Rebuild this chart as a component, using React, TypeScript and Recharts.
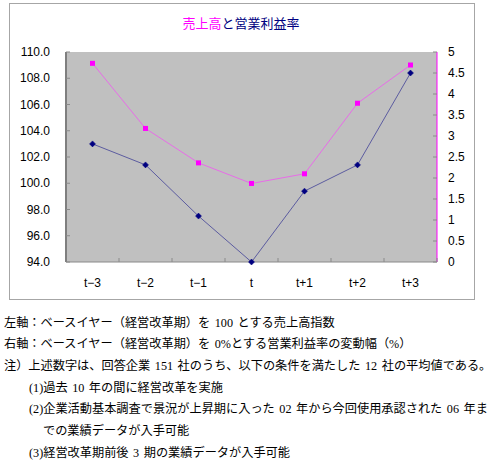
import React from 'react';
import { ComposedChart, Line, XAxis, YAxis, CartesianGrid } from 'recharts';

// 期間（経営改革期 t を中心に前後3期）
const periods = ['t−3', 't−2', 't−1', 't', 't+1', 't+2', 't+3'];
// 左軸：売上高指数
const salesIndex = [103.0, 101.4, 97.5, 94.0, 99.4, 101.4, 108.4];
// 右軸：営業利益率の変動幅（%）
const marginChange = [4.73, 3.18, 2.36, 1.87, 2.1, 3.78, 4.69];

const leftTicks = [94, 96, 98, 100, 102, 104, 106, 108, 110];
const rightTicks = [0, 0.5, 1, 1.5, 2, 2.5, 3, 3.5, 4, 4.5, 5];

const notes = [
  { text: '左軸：ベースイヤー（経営改革期）を 100 とする売上高指数', x: 4, y: 323 },
  { text: '右軸：ベースイヤー（経営改革期）を 0%とする営業利益率の変動幅（%）', x: 4, y: 344 },
  { text: '注）上述数字は、回答企業 151 社のうち、以下の条件を満たした 12 社の平均値である。', x: 4, y: 366 },
  { text: '(1)過去 10 年の間に経営改革を実施', x: 29, y: 388 },
  { text: '(2)企業活動基本調査で景況が上昇期に入った 02 年から今回使用承認された 06 年ま', x: 29, y: 409 },
  { text: 'での業績データが入手可能', x: 43, y: 431 },
  { text: '(3)経営改革期前後 3 期の業績データが入手可能', x: 29, y: 453 },
];

const data = periods.map((p, i) => ({
  period: p,
  sales: salesIndex[i],
  margin: marginChange[i],
}));

const CHART_W = 500;
const MARGIN = { top: 52, right: 23, left: 0, bottom: 8 };
const LEFT_W = 66;
const RIGHT_W = 40;

const axisFont = { fontFamily: '"Liberation Sans", "Noto Sans CJK JP", sans-serif', fontSize: 12 };
const TICK_GREY = '#8a8a8a';

const LeftTick = (props: any) => {
  const { x, y, payload } = props;
  const edge = x + 16;
  return (
    <g>
      <line x1={edge} x2={edge + 4} y1={y} y2={y} stroke={TICK_GREY} />
      <text x={x} y={y} textAnchor="end" dominantBaseline="central" fill="#000" style={axisFont}>
        {Number(payload.value).toFixed(1)}
      </text>
    </g>
  );
};

const RightTick = (props: any) => {
  const { x, y, payload } = props;
  const edge = x - 11;
  return (
    <g>
      <line x1={edge - 4} x2={edge} y1={y} y2={y} stroke={TICK_GREY} />
      <text x={x} y={y} textAnchor="start" dominantBaseline="central" fill="#000" style={axisFont}>
        {String(payload.value)}
      </text>
    </g>
  );
};

const BottomTick = (props: any) => {
  const { x, y, payload, index } = props;
  const count = props.visibleTicksCount || periods.length;
  const plotW =
    Number.isFinite(props.width) && props.width > 0
      ? props.width
      : CHART_W - MARGIN.left - MARGIN.right - LEFT_W - RIGHT_W;
  const band = plotW / count;
  const base = y - 21;
  const left = x - band / 2;
  const right = x + band / 2;
  return (
    <g>
      {index > 0 && <line x1={left} x2={left} y1={base} y2={base - 4} stroke={TICK_GREY} />}
      {index === count - 1 && <line x1={right} x2={right} y1={base} y2={base - 4} stroke={TICK_GREY} />}
      <text x={x} y={y} textAnchor="middle" dominantBaseline="central" fill="#000" style={axisFont}>
        {payload.value}
      </text>
    </g>
  );
};

const DiamondDot = (props: any) => {
  const { cx, cy, index } = props;
  if (cx == null || cy == null) return <g key={`d${index}`} />;
  const r = 3;
  return (
    <path
      key={`d${index}`}
      d={`M${cx},${cy - r}L${cx + r},${cy}L${cx},${cy + r}L${cx - r},${cy}Z`}
      fill="#000080"
      stroke="#000080"
      strokeWidth={0.5}
    />
  );
};

const SquareDot = (props: any) => {
  const { cx, cy, index } = props;
  if (cx == null || cy == null) return <g key={`s${index}`} />;
  const r = 2.5;
  return <rect key={`s${index}`} x={cx - r} y={cy - r} width={r * 2} height={r * 2} fill="#ff00ff" />;
};

export default function App() {
  return (
    <div style={{ position: 'absolute', left: 0, top: 0, width: 500, height: 462, background: '#fff' }}>
      <div
        style={{
          position: 'absolute',
          left: 9,
          top: 3,
          width: 466,
          height: 297,
          boxSizing: 'border-box',
          border: '1px solid #a6a6a6',
        }}
      />
      <div
        style={{
          position: 'absolute',
          left: 141,
          top: 14,
          width: 200,
          textAlign: 'center',
          fontFamily: '"Noto Sans CJK JP", sans-serif',
          fontSize: 13,
          lineHeight: '18px',
          color: '#000080',
        }}
      >
        <span style={{ color: '#ff00ff' }}>売上高</span>と営業利益率
      </div>
      <div style={{ position: 'absolute', left: 0, top: 0 }}>
        <ComposedChart width={CHART_W} height={300} data={data} margin={MARGIN}>
          <CartesianGrid fill="#c0c0c0" horizontal={false} vertical={false} />
          <XAxis
            dataKey="period"
            scale="band"
            height={30}
            tickSize={0}
            tickMargin={21}
            axisLine={{ stroke: TICK_GREY, strokeWidth: 1 }}
            tickLine={false}
            tick={<BottomTick />}
            interval={0}
          />
          <YAxis
            yAxisId="left"
            orientation="left"
            width={LEFT_W}
            domain={[94, 110]}
            ticks={leftTicks}
            tickSize={0}
            tickMargin={16}
            axisLine={{ stroke: '#7f7f7f', strokeWidth: 2 }}
            tickLine={false}
            tick={<LeftTick />}
            interval={0}
          />
          <YAxis
            yAxisId="right"
            orientation="right"
            width={RIGHT_W}
            domain={[0, 5]}
            ticks={rightTicks}
            tickSize={0}
            tickMargin={11}
            axisLine={{ stroke: '#ff00ff', strokeWidth: 1 }}
            tickLine={false}
            tick={<RightTick />}
            interval={0}
          />
          <Line
            yAxisId="right"
            type="linear"
            dataKey="margin"
            stroke="#e86ce8"
            strokeWidth={1}
            dot={SquareDot}
            activeDot={false}
            isAnimationActive={false}
          />
          <Line
            yAxisId="left"
            type="linear"
            dataKey="sales"
            stroke="#5c5ca0"
            strokeWidth={1}
            dot={DiamondDot}
            activeDot={false}
            isAnimationActive={false}
          />
        </ComposedChart>
      </div>
      {notes.map((n, i) => (
        <div
          key={i}
          style={{
            position: 'absolute',
            left: n.x,
            top: n.y - 9,
            height: 18,
            lineHeight: '18px',
            whiteSpace: 'nowrap',
            fontFamily: '"Liberation Serif", "Noto Sans CJK JP", serif',
            fontSize: 12.2,
            wordSpacing: 1.5,
            color: '#000',
          }}
        >
          {n.text}
        </div>
      ))}
    </div>
  );
}
